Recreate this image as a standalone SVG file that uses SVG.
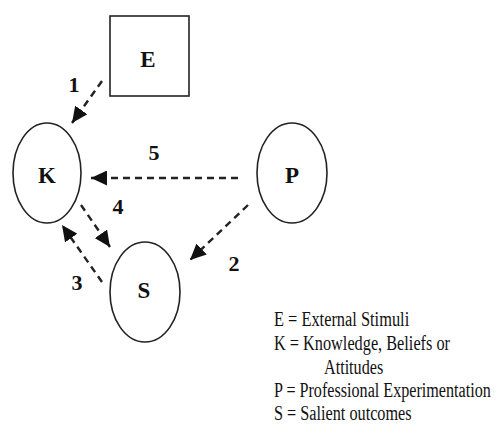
<svg xmlns="http://www.w3.org/2000/svg" width="496" height="430" viewBox="0 0 496 430">
<style>
.node{fill:#fff;stroke:#222;stroke-width:1.6}
.lbl{font-family:"Liberation Serif","Times New Roman",serif;font-weight:bold;font-size:23px;fill:#111;text-anchor:middle}
.num{font-family:"Liberation Serif","Times New Roman",serif;font-weight:bold;font-size:22px;fill:#111;text-anchor:middle}
.leg{font-family:"Liberation Serif","Times New Roman",serif;font-size:20px;fill:#111}
.con{fill:none;stroke:#222;stroke-width:2.4;stroke-dasharray:7 5;marker-end:url(#ah)}
</style>
<defs>
<marker id="ah" markerUnits="userSpaceOnUse" markerWidth="17" markerHeight="15" refX="16" refY="7.5" orient="auto">
<path d="M0,0 L16,7.5 L0,15 z" fill="#111"/>
</marker>
</defs>
<rect width="496" height="430" fill="#fff"/>
<g id="connectors">
<line class="con" x1="102" y1="81" x2="72" y2="123"/>
<line class="con" x1="238" y1="178" x2="91" y2="178"/>
<line class="con" x1="248" y1="205" x2="190" y2="260"/>
<line class="con" x1="81" y1="205" x2="110" y2="247"/>
<line class="con" x1="102" y1="282" x2="62" y2="225"/>
<text class="num" x="74" y="92">1</text>
<text class="num" x="234" y="271">2</text>
<text class="num" x="77" y="290">3</text>
<text class="num" x="118" y="214">4</text>
<text class="num" x="154" y="160">5</text>
</g>
<g id="node-E">
<rect class="node" x="110" y="16" width="79" height="80"/>
<text class="lbl" x="148" y="67">E</text>
</g>
<g id="node-K">
<ellipse class="node" cx="47" cy="173" rx="34" ry="50"/>
<text class="lbl" x="47" y="183">K</text>
</g>
<g id="node-P">
<ellipse class="node" cx="292" cy="173" rx="35" ry="50"/>
<text class="lbl" x="292" y="183">P</text>
</g>
<g id="node-S">
<ellipse class="node" cx="145" cy="292" rx="35" ry="50"/>
<text class="lbl" x="144" y="298">S</text>
</g>
<g id="legend" transform="translate(274,0) scale(0.8,1)">
<text class="leg" x="0" y="326" textLength="169" lengthAdjust="spacingAndGlyphs">E = External Stimuli</text>
<text class="leg" x="0" y="350" textLength="220" lengthAdjust="spacingAndGlyphs">K = Knowledge, Beliefs or</text>
<text class="leg" x="62.5" y="374" textLength="74" lengthAdjust="spacingAndGlyphs">Attitudes</text>
<text class="leg" x="0" y="397" textLength="271" lengthAdjust="spacingAndGlyphs">P = Professional Experimentation</text>
<text class="leg" x="0" y="420" textLength="172" lengthAdjust="spacingAndGlyphs">S = Salient outcomes</text>
</g>
</svg>
